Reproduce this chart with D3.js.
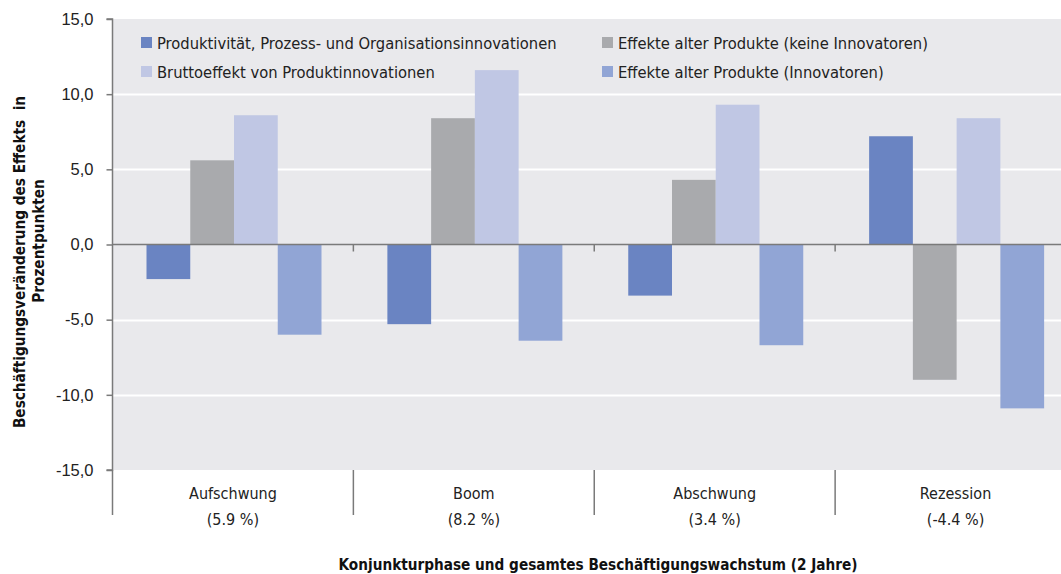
<!DOCTYPE html>
<html><head><meta charset="utf-8">
<script src="https://cdn.jsdelivr.net/npm/d3@7"></script>
<style>
body{margin:0;background:#fff;}
svg{display:block;font-family:"Liberation Sans Narrow","DejaVu Sans Condensed","Roboto Condensed",sans-serif;}
text{white-space:pre;}
</style></head><body>
<svg id="c" width="1061" height="574"></svg>
<script>
const categories = ["Aufschwung", "Boom", "Abschwung", "Rezession"];
const categorySub = ["(5.9 %)", "(8.2 %)", "(3.4 %)", "(-4.4 %)"];
const seriesNames = [
  "Produktivität, Prozess- und Organisationsinnovationen",
  "Effekte alter Produkte (keine Innovatoren)",
  "Bruttoeffekt von Produktinnovationen",
  "Effekte alter Produkte (Innovatoren)"
];
const prozess = [-2.3, -5.3, -3.4, 7.2];
const alteKeine = [5.6, 8.4, 4.3, -9.0];
const brutto = [8.6, 11.6, 9.3, 8.4];
const alteInnov = [-6.0, -6.4, -6.7, -10.9];
const seriesValues = [prozess, alteKeine, brutto, alteInnov];
const yTicks = [-15, -10, -5, 0, 5, 10, 15];
const colors = ["#6a84c2", "#a9aaad", "#c0c7e4", "#91a5d5"];

const svg = d3.select("#c");
const L = 112.5, T = 19, B = 470, R = 1076;
const x0 = d3.scaleBand().domain(categories).range([L, R]).paddingInner(0).paddingOuter(0);
const x1 = d3.scaleBand().domain(d3.range(4)).range([34, 209]).padding(0);
const y = d3.scaleLinear().domain([-15, 15]).range([B, T]);
const fmt = v => d3.format(".1f")(v).replace(".", ",").replace("−", "-");

svg.append("rect").attr("x", L).attr("y", T).attr("width", R - L).attr("height", B - T).attr("fill", "#e9e9ec");

// gridlines
svg.append("g").selectAll("line").data(yTicks.filter(t => t !== 0 && t !== -15 && t !== 15)).join("line")
  .attr("x1", L).attr("x2", R).attr("y1", d => Math.round(y(d)) + 0.5).attr("y2", d => Math.round(y(d)) + 0.5)
  .attr("stroke", "#fff").attr("stroke-width", 2);

// bars
const g = svg.append("g");
categories.forEach((c, ci) => {
  seriesValues.forEach((vals, si) => {
    const v = vals[ci];
    g.append("rect")
      .attr("x", x0(c) + x1(si)).attr("width", x1.bandwidth())
      .attr("y", y(Math.max(0, v))).attr("height", Math.abs(y(v) - y(0)))
      .attr("fill", colors[si]);
  });
});

// zero line
svg.append("line").attr("x1", L).attr("x2", R).attr("y1", y(0)).attr("y2", y(0)).attr("stroke", "#7a7a7a").attr("stroke-width", 1.5);
// category ticks on zero line
svg.append("g").selectAll("line").data(categories.slice(1)).join("line")
  .attr("x1", d => x0(d)).attr("x2", d => x0(d)).attr("y1", y(0)).attr("y2", y(0) + 7)
  .attr("stroke", "#7a7a7a").attr("stroke-width", 1.5);

// y axis
const yAxis = d3.axisLeft(y).tickValues(yTicks).tickFormat(fmt).tickSize(6).tickPadding(13);
const ya = svg.append("g").attr("transform", `translate(${L},0)`).call(yAxis);
ya.select(".domain").attr("stroke", "#7a7a7a").attr("stroke-width", 1.5).attr("d", `M-6,${T}H0V${B}H-6`);
ya.selectAll(".tick line").attr("stroke", "#7a7a7a").attr("stroke-width", 1.5);
ya.selectAll(".tick text").attr("font-size", 16.5).attr("fill", "#222").attr("font-family", null);

// category separators below plot
svg.append("g").selectAll("line").data([L, ...categories.slice(1).map(c => x0(c))]).join("line")
  .attr("x1", d => d).attr("x2", d => d).attr("y1", B).attr("y2", 515)
  .attr("stroke", "#7a7a7a").attr("stroke-width", 1.5);

// category labels
const cl = svg.append("g").attr("font-size", 16).attr("fill", "#222").attr("text-anchor", "middle");
categories.forEach((c, i) => {
  const cx = x0(c) + x0.bandwidth() / 2;
  cl.append("text").attr("x", cx).attr("y", 499).text(c);
  cl.append("text").attr("x", cx).attr("y", 525).text(categorySub[i]);
});

// legend
const legPos = [[141, 43], [602, 43], [141, 72], [602, 72]];
const lg = svg.append("g").attr("font-size", 16.4).attr("fill", "#222");
[0, 1, 2, 3].forEach((si, k) => {
  const [lx, ly] = legPos[k];
  lg.append("rect").attr("x", lx).attr("y", ly - 6).attr("width", 11).attr("height", 11).attr("fill", colors[si]);
  lg.append("text").attr("x", lx + 16).attr("y", ly + 6).text(seriesNames[si]);
});

// axis titles
svg.append("text").attr("transform", "translate(25,262) rotate(-90)").attr("text-anchor", "middle")
  .attr("font-size", 15.2).attr("font-weight", "bold").attr("fill", "#111").text("Beschäftigungsveränderung des Effekts  in");
svg.append("text").attr("transform", "translate(44,241) rotate(-90)").attr("text-anchor", "middle")
  .attr("font-size", 15.2).attr("font-weight", "bold").attr("fill", "#111").text("Prozentpunkten");
svg.append("text").attr("x", 598).attr("y", 570).attr("text-anchor", "middle")
  .attr("font-size", 15.2).attr("font-weight", "bold").attr("fill", "#111").text("Konjunkturphase und gesamtes Beschäftigungswachstum (2 Jahre)");
</script></body></html>
